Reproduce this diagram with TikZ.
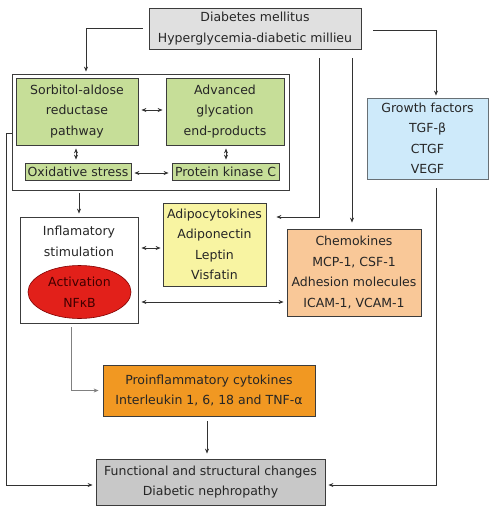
\documentclass[tikz,border=0pt]{standalone}
\usepackage{fontspec}
\setmainfont{DejaVu Sans}
\usetikzlibrary{arrows.meta,shapes.geometric}
\definecolor{topgray}{RGB}{224,224,224}
\definecolor{fungray}{RGB}{200,200,200}
\definecolor{greenf}{RGB}{198,222,152}
\definecolor{bluef}{RGB}{206,234,250}
\definecolor{yellowf}{RGB}{248,244,162}
\definecolor{peachf}{RGB}{249,200,152}
\definecolor{orangef}{RGB}{241,152,34}
\definecolor{redf}{RGB}{226,32,26}
\definecolor{edge}{RGB}{60,60,60}
\definecolor{conn}{RGB}{50,50,50}
\begin{document}
\begin{tikzpicture}[x=1pt,y=-1pt,
  every node/.style={font=\fontsize{12.5}{20.5}\selectfont, align=center, inner sep=0pt, text=black!85},
  box/.style={draw=edge, line width=0.8pt, rectangle},
  arr/.style={draw=conn, line width=0.75pt, -{Stealth[length=5pt,width=4pt]}},
  darr/.style={draw=conn, line width=0.75pt, {Stealth[length=5pt,width=4pt]}-{Stealth[length=5pt,width=4pt]}}]
\useasboundingbox (0,0) rectangle (500,515);
% boxes
\node[box, fill=topgray, minimum width=212pt, minimum height=41pt] (top) at (255,28.5) {Diabetes mellitus\\Hyperglycemia-diabetic millieu};
\node[box, fill=none, minimum width=277pt, minimum height=116pt] (outer) at (150.5,132) {};
\node[box, fill=greenf, minimum width=122pt, minimum height=67pt] (sorb) at (77,111.5) {Sorbitol-aldose\\reductase\\pathway};
\node[box, fill=greenf, minimum width=118pt, minimum height=67pt] (adv) at (225,111.5) {Advanced\\glycation\\end-products};
\node[box, fill=greenf, minimum width=106pt, minimum height=17pt] (oxid) at (78,171.5) {Oxidative stress};
\node[box, fill=greenf, minimum width=107pt, minimum height=17pt] (pkc) at (225.5,171.5) {Protein kinase C};
\node[box, fill=bluef, draw=edge!70!bluef, minimum width=121pt, minimum height=81pt] (growth) at (427.5,138.5) {Growth factors\\TGF-β\\CTGF\\VEGF};
\node[box, fill=yellowf, minimum width=103pt, minimum height=83pt] (adipo) at (214.5,244.5) {Adipocytokines\\Adiponectin\\Leptin\\Visfatin};
\node[box, fill=peachf, minimum width=134pt, minimum height=87pt] (chem) at (354,272.5) {Chemokines\\MCP-1, CSF-1\\Adhesion molecules\\ICAM-1, VCAM-1};
\node[box, fill=white, minimum width=118pt, minimum height=106pt] (inflam) at (79,270) {};
\node (inflamtxt) at (79,241.5) {Inflamatory\\stimulation};
\node[ellipse, draw=red!50!black, line width=0.6pt, fill=redf, minimum width=103pt, minimum height=53pt, text=black!75!red] (nfkb) at (79.5,292) {Activation\\NFκB};
\node[box, fill=orangef, minimum width=212pt, minimum height=51pt] (proinfl) at (209,390.5) {Proinflammatory cytokines\\Interleukin 1, 6, 18 and TNF-α};
\node[box, fill=fungray, minimum width=229pt, minimum height=46pt] (func) at (210.5,482) {Functional and structural changes\\Diabetic nephropathy};
% connectors
\draw[arr, shorten <=6pt, shorten >=2pt] (top.west) -| ([xshift=-64.5pt]outer.north);
\draw[arr, shorten <=12pt, shorten >=2pt] ([yshift=-2pt]top.east) -| ([xshift=8.5pt]growth.north);
\draw[arr, shorten <=9pt, shorten >=10pt] ([xshift=64pt]top.south) |- ([yshift=27.5pt]adipo.east);
\draw[arr, shorten <=9pt, shorten >=6pt] ([xshift=97pt]top.south) -- ([xshift=-2pt]chem.north);
\draw[arr, shorten <=9pt, shorten >=3pt] ([xshift=8.5pt]growth.south) |- ([yshift=-3pt]func.east);
\draw[arr, shorten >=3pt] ([yshift=-1pt]outer.west) -- ++(-5,0) |- ([yshift=-3pt]func.west);
\draw[arr, shorten <=3pt, shorten >=3pt] (outer.south -| inflam.north) -- (inflam.north);
\draw[darr, shorten <=3pt, shorten >=2pt] ([yshift=22pt]inflam.east) -- ([yshift=-3.5pt]adipo.west);
\draw[darr, shorten <=3pt, shorten >=3pt] ([yshift=-32pt]inflam.east) -- ([yshift=-29.5pt]chem.west);
\draw[darr, shorten <=3pt, shorten >=3pt] ([yshift=1.5pt]sorb.east) -- ([yshift=1.5pt]adv.west);
\draw[darr, shorten <=3pt, shorten >=3pt] ([yshift=-1.5pt]oxid.east) -- ([yshift=-1.5pt]pkc.west);
\draw[darr, shorten <=3pt, shorten >=3pt] ([xshift=-1pt]sorb.south) -- ([xshift=-2pt]oxid.north);
\draw[darr, shorten <=3pt, shorten >=3pt] ([xshift=1pt]adv.south) -- ([xshift=0.5pt]pkc.north);
\draw[arr, draw=gray, shorten <=4pt, shorten >=4pt] ([xshift=-8pt]inflam.south) |- (proinfl.west);
\draw[arr, shorten <=5pt, shorten >=5pt] ([xshift=-2pt]proinfl.south) -- ([xshift=-3.5pt]func.north);
\end{tikzpicture}
\end{document}
